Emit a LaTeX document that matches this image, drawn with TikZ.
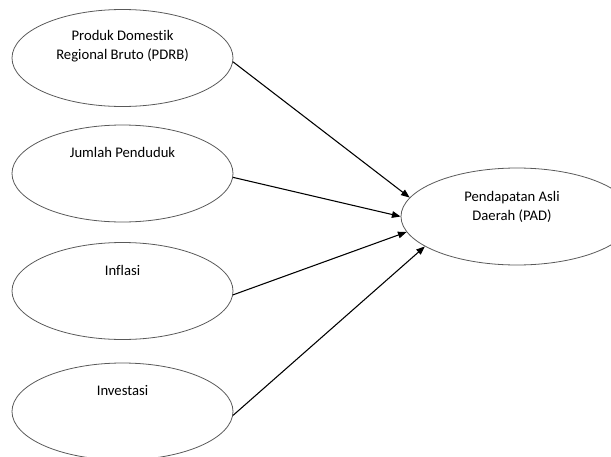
\documentclass[tikz,border=0pt]{standalone}
\usepackage{fontspec}
\setmainfont{Carlito}[Ligatures=NoCommon]
\usetikzlibrary{shapes.geometric,arrows.meta}

\begin{document}
\begin{tikzpicture}[
  x=0.75pt, y=-0.75pt,
  var/.style={draw=black!65, line width=0.6pt, ellipse, inner sep=0pt,
    minimum width=165.75pt, minimum height=72.75pt},
  txt/.style={font=\fontsize{11pt}{14.6pt}\selectfont, align=center, anchor=base},
  arr/.style={-{Triangle[length=6.5pt,width=5pt]}, line width=0.8pt}
]
  \useasboundingbox (0,0) rectangle (611,457);

  % --- left column: independent variables
  \node[var] (pdrb) at (122.5,58) {};
  \node[txt] (pdrb-t) at (122.5,59.5) {Produk Domestik\\Regional Bruto (PDRB)};

  \node[var] (pend) at (122.5,173.5) {};
  \node[txt] (pend-t) at (122.5,157.5) {Jumlah Penduduk};

  \node[var] (infl) at (122.5,291) {};
  \node[txt] (infl-t) at (122.5,275) {Inflasi};

  \node[var] (inv) at (122.5,411.5) {};
  \node[txt] (inv-t) at (122.5,395) {Investasi};

  % --- right: dependent variable
  \node[var, minimum width=174pt] (pad) at (517,216.5) {};
  \node[txt] (pad-t) at (512,220.5) {Pendapatan Asli\\Daerah (PAD)};

  % arrows into PAD
  \draw[arr] (pdrb.-2) -- (pad.170.6);
  \draw[arr] (pend.-2.5) -- (pad.west);
  \draw[arr] (infl.-2) -- (pad.188.5);
  \draw[arr] (inv.-2) -- (pad.198.3);
\end{tikzpicture}
\end{document}
